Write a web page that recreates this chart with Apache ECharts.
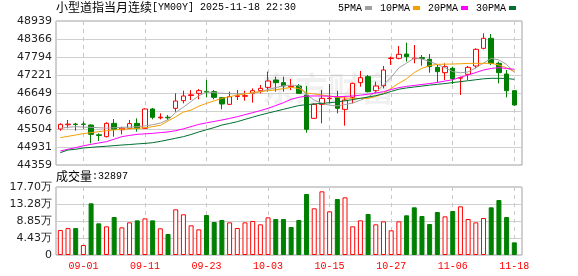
<!DOCTYPE html>
<html><head><meta charset="utf-8">
<script src="https://cdn.jsdelivr.net/npm/echarts@6/dist/echarts.min.js"></script>
<style>html,body{margin:0;padding:0;background:#fff}#c{width:578px;height:276px}</style>
</head><body><div id="c"></div>
<script>
const dates = ['08-27','08-28','08-29','09-01','09-02','09-03','09-04','09-05','09-08','09-09','09-10','09-11','09-12','09-15','09-16','09-17','09-18','09-19','09-22','09-23','09-24','09-25','09-26','09-29','09-30','10-01','10-02','10-03','10-06','10-07','10-08','10-09','10-10','10-13','10-14','10-15','10-16','10-17','10-20','10-21','10-22','10-23','10-24','10-27','10-28','10-29','10-30','10-31','11-03','11-04','11-05','11-06','11-07','11-10','11-11','11-12','11-13','11-14','11-17','11-18'];
const tickLabels = ['09-01','09-11','09-23','10-03','10-15','10-27','11-06','11-18'];
const priceTickLabels = ['44359','44931','45504','46076','46649','47221','47794','48366','48939'];
const volTickLabels = ['0','4.43万','8.85万','13.28万','17.70万'];
const priceMin = 44359, priceMax = 48939, volMax = 177000;

const open  = [45504,45640,45660,45662,45631,45320,45260,45684,45480,45525,45684,45525,46140,45860,45880,46161,46405,46570,46638,46700,46691,46501,46288,46540,46545,46638,46723,46829,47063,46978,46850,46872,46585,45843,46288,46470,46511,46129,46511,46978,47169,46723,46882,47745,47752,47889,47740,47775,47720,47465,47296,47434,47120,47243,47508,48070,48388,47593,47253,46723];
const close = [45652,45660,45645,45652,45334,45300,45684,45493,45530,45674,45525,46140,45875,45880,45860,46395,46554,46590,46723,46680,46511,46299,46532,46560,46565,46723,46797,47031,46978,46872,46865,46638,45493,46288,46479,46485,46161,46426,46956,47137,46691,46872,47381,47760,47879,47805,47760,47750,47487,47328,47487,47105,47140,47465,48038,48388,47593,47296,46723,46267];
const low   = [45451,45525,45451,45515,45048,45122,45239,45260,45334,45504,45419,45504,45811,45811,45790,46055,46320,46426,46448,46511,46448,46129,46267,46426,46405,46342,46638,46691,46691,46691,46744,46617,45387,45822,45684,46320,46002,45610,46320,46850,46670,46638,46797,47540,47720,47646,47593,47518,47296,46978,47063,46935,46585,47063,47434,48038,47540,46956,46511,46246];
const high  = [45684,45790,45700,45750,45652,45366,45716,45822,45578,45790,45843,46161,46172,46002,45949,46638,46723,46744,46776,47063,46744,46511,46691,46744,46723,46797,46903,47328,47169,47169,47094,46935,46872,46320,46744,46935,46723,46532,46978,47349,47222,47009,47508,47805,48144,48250,48176,47858,47889,47540,47593,47487,47169,47508,48070,48547,48526,47646,47381,46744];
const volume = [65000,70000,70000,26000,134500,82400,74600,98900,72000,85000,90200,95400,90200,69400,54700,118900,105900,77200,66800,104100,85900,91100,85000,70300,85000,88500,79800,98000,93700,93700,72900,91100,158800,121500,165700,113700,145800,150100,74600,90200,106700,79800,87600,64200,87600,103300,124100,101500,80700,111900,100600,114500,126700,93700,85000,96300,124100,143200,98900,32897];
const ma5  = [45525,45560,45578,45565,45557,45545,45530,45545,45557,45565,45578,45600,45640,45690,45800,46030,46200,46380,46560,46680,46660,46640,46630,46620,46630,46640,46700,46760,46820,46880,46903,46880,46600,46420,46320,46260,46240,46280,46330,46420,46520,46680,46900,47150,47450,47600,47760,47730,47650,47560,47450,47330,47290,47320,47450,47600,47750,47700,47560,47300];
const ma10 = [45228,45270,45313,45360,45387,45420,45451,45475,45493,45510,45525,45545,45578,45620,45760,45896,46040,46108,46230,46320,46400,46479,46530,46585,46620,46660,46690,46723,46750,46790,46830,46790,46650,46617,46585,46550,46511,46490,46479,46479,46479,46540,46638,46800,46960,47100,47300,47434,47520,47561,47565,47571,47580,47590,47593,47593,47593,47540,47450,47328];
const ma20 = [44804,44860,44910,44970,45016,45060,45101,45180,45260,45300,45334,45350,45366,45390,45410,45450,45510,45580,45650,45700,45745,45790,45840,45896,45960,46023,46090,46161,46250,46340,46450,46511,46554,46554,46554,46545,46532,46540,46554,46580,46610,46650,46691,46760,46820,46860,46890,46920,46950,46985,47030,47070,47150,47222,47300,47381,47430,47455,47430,47402];
const ma30 = [44751,44836,44860,44900,44920,44940,44955,44975,44995,45010,45030,45045,45069,45110,45160,45210,45260,45330,45410,45480,45550,45631,45680,45737,45810,45880,45950,46010,46070,46130,46190,46250,46280,46300,46320,46340,46365,46400,46440,46480,46520,46565,46620,46700,46770,46810,46840,46870,46900,46925,46950,46980,47010,47040,47070,47100,47116,47116,47110,47084];

const RED = '#ff0000', GREEN = '#008000';
const catInterval = (idx) => tickLabels.indexOf(dates[idx]) >= 0;

const candleData = open.map((o, i) => [o, close[i], low[i], high[i]]);
// volume colour: close compared with the previous close
const volData = volume.map((v, i) => {
  const up = close[i] > (i > 0 ? close[i - 1] : open[i]);
  return { value: v, itemStyle: up ? { color: '#fff', borderColor: RED, borderWidth: 1 } : { color: GREEN, borderColor: GREEN, borderWidth: 1 } };
});

const chart = echarts.init(document.getElementById('c'), null, { renderer: 'canvas' });
const labelFont = { fontFamily: 'DejaVu Sans', fontSize: 11, color: '#222' };
const gridDeco = (top, h) => ({ left: 56, top, width: 466, height: h, show: true, borderColor: '#a0a0a0', borderWidth: 1, backgroundColor: 'transparent' });
const gridData = (top, h) => ({ left: 60.3, top, width: 454, height: h });
const richTitle = { a: { fontFamily: 'Noto Sans CJK SC', fontSize: 12, fontWeight: 'normal', color: '#000' }, b: { fontFamily: 'Liberation Mono', fontSize: 10, fontWeight: 'normal', color: '#000' } };

chart.setOption({
  animation: false,
  backgroundColor: '#fff',
  title: [
    { text: '{a|小型道指当月连续}{b|[YM00Y] 2025-11-18 22:30}', left: 56, top: 1, padding: 0,
      textStyle: { fontWeight: 'normal', rich: richTitle } },
    { text: '{a|成交量}{b|:32897}', left: 56, top: 170, padding: 0,
      textStyle: { fontWeight: 'normal', rich: richTitle } }
  ],
  legend: {
    left: 338, top: 3, padding: 0, align: 'right', icon: 'rect', itemWidth: 7, itemHeight: 4, itemGap: 8,
    textStyle: { fontFamily: 'Liberation Mono', fontSize: 10, color: '#000', padding: [0, -2, 0, 0] },
    data: ['5PMA', '10PMA', '20PMA', '30PMA']
  },
  graphic: [
    { type: 'text', left: 262, top: 72, z: 0, silent: true,
      style: { text: '东方财富', font: 'bold 33px "Noto Sans CJK SC"', fill: 'rgba(0,0,0,0.06)' } }
  ],
  grid: [gridDeco(21, 144), gridData(21, 144), gridDeco(187, 68), gridData(187, 68)],
  xAxis: [
    { gridIndex: 0, type: 'value', min: 0, max: 1, show: false },
    { gridIndex: 1, type: 'category', data: dates, boundaryGap: false,
      axisLine: { show: false }, axisTick: { show: false, interval: catInterval }, axisLabel: { show: false, interval: catInterval },
      splitLine: { show: true, interval: catInterval, lineStyle: { color: '#c8c8c8', type: [4, 4], width: 1 } } },
    { gridIndex: 2, type: 'value', min: 0, max: 1, show: false },
    { gridIndex: 3, type: 'category', data: dates, boundaryGap: false,
      axisLine: { show: false }, axisTick: { show: false, interval: catInterval },
      axisLabel: { show: true, interval: catInterval, margin: 6, color: RED, fontFamily: 'Liberation Mono', fontSize: 10 },
      splitLine: { show: true, interval: catInterval, lineStyle: { color: '#c8c8c8', type: [4, 4], width: 1 } } }
  ],
  yAxis: [
    { gridIndex: 0, type: 'value', min: 0, max: 8, interval: 1,
      axisLine: { show: false }, axisTick: { show: false },
      axisLabel: Object.assign({ margin: 4, formatter: (v) => priceTickLabels[Math.round(v)] }, labelFont),
      splitLine: { show: true, lineStyle: { color: '#cfcfcf', width: 1 } } },
    { gridIndex: 1, type: 'value', min: priceMin, max: priceMax, show: false, splitLine: { show: false } },
    { gridIndex: 2, type: 'value', min: 0, max: 4, interval: 1,
      axisLine: { show: false }, axisTick: { show: false },
      axisLabel: Object.assign({ margin: 4, formatter: (v) => volTickLabels[Math.round(v)] }, labelFont),
      splitLine: { show: true, lineStyle: { color: '#cfcfcf', width: 1 } } },
    { gridIndex: 3, type: 'value', min: 0, max: volMax, show: false, splitLine: { show: false } }
  ],
  series: [
    { type: 'candlestick', name: 'K', xAxisIndex: 1, yAxisIndex: 1, data: candleData, barWidth: 5, z: 3,
      itemStyle: { color: '#fff', color0: GREEN, borderColor: RED, borderColor0: GREEN, borderWidth: 1 } },
    { type: 'line', name: '5PMA', xAxisIndex: 1, yAxisIndex: 1, data: ma5, symbol: 'none', color: '#a0a0a0', lineStyle: { width: 1, color: '#a0a0a0' }, z: 4 },
    { type: 'line', name: '10PMA', xAxisIndex: 1, yAxisIndex: 1, data: ma10, symbol: 'none', color: '#f5a000', lineStyle: { width: 1, color: '#f5a000' }, z: 4 },
    { type: 'line', name: '20PMA', xAxisIndex: 1, yAxisIndex: 1, data: ma20, symbol: 'none', color: '#ff00ff', lineStyle: { width: 1, color: '#ff00ff' }, z: 4 },
    { type: 'line', name: '30PMA', xAxisIndex: 1, yAxisIndex: 1, data: ma30, symbol: 'none', color: '#006f30', lineStyle: { width: 1, color: '#006f30' }, z: 4 },
    { type: 'bar', name: 'VOL', xAxisIndex: 3, yAxisIndex: 3, data: volData, barWidth: 5 }
  ]
});
</script></body></html>
